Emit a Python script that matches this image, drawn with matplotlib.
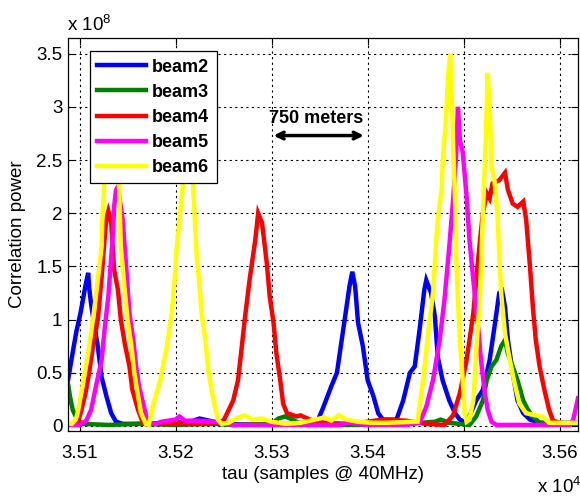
import matplotlib
matplotlib.use("Agg")
import matplotlib.pyplot as plt
from matplotlib.ticker import FuncFormatter, MultipleLocator

plt.rcParams['font.family'] = ['Liberation Sans', 'DejaVu Sans']
plt.rcParams['mathtext.default'] = 'regular'

# tau in samples, correlation power in units of 1e8
beam2_x = [35088, 35094, 35097, 35101, 35106, 35109, 35110, 35112, 35115, 35119,
           35123, 35128, 35133, 35138, 35145, 35160, 35190, 35215, 35225, 35235,
           35250, 35290, 35320, 35348, 35354, 35362, 35368, 35373, 35378, 35381,
           35384, 35387, 35390, 35395, 35400, 35406, 35411, 35416, 35430, 35437,
           35444, 35449, 35454, 35459, 35461, 35466, 35470, 35473, 35478, 35485,
           35491, 35496, 35503, 35513, 35520, 35527, 35532, 35537, 35540, 35543,
           35546, 35551, 35556, 35562, 35569, 35579, 35618]
beam2_y = [0.43, 0.75, 0.90, 1.06, 1.31, 1.44, 1.30, 1.15, 0.97, 0.75,
           0.46, 0.28, 0.12, 0.04, 0.02, 0.02, 0.03, 0.04, 0.07, 0.05,
           0.02, 0.01, 0.02, 0.05, 0.18, 0.37, 0.50, 0.81, 1.12, 1.31,
           1.45, 1.31, 0.97, 0.75, 0.43, 0.28, 0.12, 0.06, 0.06, 0.24,
           0.50, 0.56, 0.90, 1.28, 1.37, 1.25, 1.03, 0.65, 0.43, 0.24,
           0.12, 0.06, 0.03, 0.24, 0.34, 0.62, 0.93, 1.25, 1.27, 1.12,
           0.81, 0.50, 0.24, 0.12, 0.06, 0.03, 0.03]

beam3_x = [35088, 35090, 35093, 35098, 35104, 35130, 35160, 35200, 35240, 35260,
           35300, 35307, 35314, 35322, 35330, 35360, 35400, 35440, 35470, 35476,
           35485, 35495, 35506, 35513, 35520, 35524, 35529, 35534, 35539, 35543,
           35546, 35551, 35556, 35562, 35567, 35572, 35579, 35618]
beam3_y = [0.40, 0.28, 0.15, 0.05, 0.02, 0.01, 0.02, 0.01, 0.02, 0.01,
           0.02, 0.07, 0.09, 0.06, 0.02, 0.01, 0.01, 0.02, 0.04, 0.06,
           0.03, 0.02, 0.01, 0.09, 0.24, 0.43, 0.56, 0.62, 0.75, 0.81,
           0.68, 0.56, 0.43, 0.24, 0.15, 0.09, 0.03, 0.02]

beam4_x = [35088, 35095, 35098, 35102, 35106, 35110, 35114, 35119, 35123, 35126,
           35128, 35130, 35133, 35136, 35140, 35143, 35147, 35152, 35155, 35161,
           35166, 35180, 35200, 35230, 35250, 35260, 35265, 35269, 35272, 35277,
           35283, 35286, 35290, 35295, 35298, 35302, 35305, 35309, 35312, 35316,
           35326, 35330, 35340, 35355, 35380, 35400, 35415, 35440, 35460, 35480,
           35489, 35496, 35503, 35510, 35513, 35517, 35520, 35524, 35527, 35530,
           35537, 35543, 35546, 35551, 35556, 35562, 35565, 35569, 35572, 35575,
           35579, 35584, 35589, 35593, 35600, 35618]
beam4_y = [0.01, 0.02, 0.03, 0.15, 0.30, 0.50, 0.75, 1.00, 1.40, 1.75,
           1.95, 2.02, 1.91, 1.47, 1.28, 1.00, 0.78, 0.56, 0.34, 0.15,
           0.03, 0.02, 0.03, 0.02, 0.05, 0.24, 0.43, 0.75, 1.00, 1.37,
           1.75, 2.00, 1.91, 1.53, 1.22, 0.97, 0.68, 0.43, 0.21, 0.12,
           0.09, 0.10, 0.06, 0.03, 0.02, 0.04, 0.06, 0.05, 0.02, 0.01,
           0.10, 0.31, 0.62, 1.06, 1.37, 1.75, 2.00, 2.19, 2.14, 2.28,
           2.31, 2.38, 2.22, 2.09, 2.06, 2.11, 1.94, 1.50, 1.12, 0.81,
           0.56, 0.34, 0.15, 0.05, 0.03, 0.02]

beam5_x = [35088, 35100, 35107, 35112, 35117, 35123, 35126, 35130, 35133, 35135,
           35136, 35138, 35140, 35142, 35145, 35149, 35152, 35156, 35159, 35162,
           35168, 35171, 35180, 35185, 35200, 35204, 35210, 35225, 35240, 35260,
           35300, 35370, 35380, 35400, 35440, 35454, 35461, 35468, 35475, 35480,
           35485, 35489, 35492, 35494, 35496, 35499, 35503, 35506, 35510, 35515,
           35518, 35522, 35525, 35529, 35534, 35610, 35614, 35617, 35619]
beam5_y = [0.01, 0.01, 0.05, 0.15, 0.37, 0.62, 0.90, 1.22, 1.59, 1.84,
           2.06, 2.22, 2.25, 2.12, 1.94, 1.44, 1.06, 0.81, 0.56, 0.37,
           0.15, 0.03, 0.02, 0.04, 0.06, 0.09, 0.05, 0.05, 0.04, 0.01,
           0.01, 0.01, 0.03, 0.01, 0.01, 0.03, 0.18, 0.43, 0.81, 1.19,
           1.69, 2.13, 2.53, 3.00, 2.69, 2.57, 2.16, 1.75, 1.37, 0.93,
           0.62, 0.31, 0.15, 0.04, 0.01, 0.01, 0.06, 0.18, 0.26]

beam6_x = [35088, 35092, 35096, 35098, 35103, 35109, 35114, 35119, 35123, 35124,
           35126, 35130, 35134, 35138, 35141, 35143, 35147, 35150, 35154, 35157,
           35161, 35164, 35169, 35172, 35177, 35184, 35191, 35196, 35199, 35201,
           35203, 35208, 35213, 35218, 35222, 35225, 35227, 35231, 35234, 35238,
           35241, 35244, 35248, 35255, 35265, 35272, 35280, 35290, 35300, 35315,
           35330, 35345, 35355, 35362, 35370, 35378, 35390, 35405, 35420, 35448,
           35452, 35455, 35458, 35463, 35468, 35471, 35473, 35477, 35478, 35481,
           35484, 35486, 35488, 35489, 35491, 35492, 35494, 35496, 35499, 35501,
           35503, 35506, 35510, 35513, 35517, 35520, 35523, 35525, 35527, 35529,
           35532, 35535, 35537, 35539, 35543, 35548, 35553, 35558, 35565, 35575,
           35582, 35589, 35618]
beam6_y = [0.02, 0.02, 0.06, 0.12, 0.37, 0.68, 1.00, 1.37, 1.69, 2.00,
           2.31, 2.65, 2.80, 2.60, 2.31, 1.69, 1.28, 1.00, 0.75, 0.50,
           0.28, 0.12, 0.02, 0.01, 0.21, 0.43, 0.75, 1.06, 1.37, 1.66,
           1.84, 2.30, 2.70, 2.30, 1.59, 1.31, 1.06, 0.81, 0.53, 0.31,
           0.18, 0.06, 0.02, 0.03, 0.08, 0.10, 0.06, 0.07, 0.04, 0.02,
           0.03, 0.06, 0.08, 0.05, 0.10, 0.06, 0.04, 0.03, 0.03, 0.04,
           0.04, 0.25, 0.45, 0.87, 1.25, 1.69, 1.94, 2.22, 2.47, 2.82,
           3.32, 3.50, 3.00, 2.63, 2.13, 1.62, 1.19, 0.81, 0.43, 0.12,
           0.04, 0.06, 0.24, 0.68, 1.25, 2.00, 2.69, 3.32, 3.00, 2.44,
           2.31, 2.00, 1.62, 1.25, 0.87, 0.62, 0.40, 0.21, 0.12, 0.10,
           0.09, 0.03, 0.03]

series = [
    ("beam2", beam2_x, beam2_y, "#0000ff"),
    ("beam3", beam3_x, beam3_y, "#008000"),
    ("beam4", beam4_x, beam4_y, "#ff0000"),
    ("beam5", beam5_x, beam5_y, "#ff00ff"),
    ("beam6", beam6_x, beam6_y, "#ffff00"),
]

fig = plt.figure(figsize=(5.8, 4.96), dpi=100)
ax = fig.add_axes([68 / 580, 1 - 431 / 496, 510 / 580, 393 / 496])

for name, xs, ys, col in series:
    ax.plot(xs, ys, color=col, lw=3.2, label=name, solid_joinstyle='miter')

ax.set_xlim(35088, 35619)
ax.set_ylim(-0.047, 3.647)
ax.xaxis.set_major_locator(MultipleLocator(100))
ax.yaxis.set_major_locator(MultipleLocator(0.5))
ax.xaxis.set_major_formatter(FuncFormatter(lambda v, p: f"{v / 1e4:.2f}"))
ax.yaxis.set_major_formatter(FuncFormatter(lambda v, p: f"{v:g}"))

ax.set_axisbelow(True)
ax.grid(True, color='k', linestyle=(0, (2, 3)), lw=0.8)
ax.tick_params(direction='in', length=5, width=0.8, labelsize=13.5,
               top=True, right=True, colors='k')
ax.tick_params(axis='x', pad=10)
ax.tick_params(axis='y', pad=4)
for sp in ax.spines.values():
    sp.set_linewidth(0.9)

ax.set_xlabel("tau (samples @ 40MHz)", fontsize=13.5)
ax.set_ylabel("Correlation power", fontsize=13.5)
ax.xaxis.set_label_coords(0.5, -0.09)
ax.yaxis.set_label_coords(-0.082, 0.5)

# exponent labels, MATLAB style
fig.text(67 / 580, 1 - 31 / 496, r"x 10$^{8}$", fontsize=13.5, va='baseline')
fig.text(537 / 580, 1 - 493 / 496, r"x 10$^{4}$", fontsize=13.5, va='baseline')

# 100 samples at 40 MHz -> 750 m
ax.annotate("", xy=(35302, 2.73), xytext=(35396, 2.73),
            arrowprops=dict(arrowstyle='<->', color='k', lw=2.5,
                            mutation_scale=12, shrinkA=0, shrinkB=0))
ax.text(35346, 2.89, "750 meters", fontsize=13, fontweight='bold',
        ha='center', va='center')

leg = ax.legend(loc='upper left', bbox_to_anchor=(0.043, 0.966),
                borderaxespad=0, fancybox=False, framealpha=1,
                edgecolor='k', handlelength=2.7, handletextpad=0.35,
                labelspacing=0.45, borderpad=0.4,
                prop={'size': 13, 'weight': 'bold'})
leg.get_frame().set_linewidth(0.9)

fig.savefig("out.png", dpi=100)
